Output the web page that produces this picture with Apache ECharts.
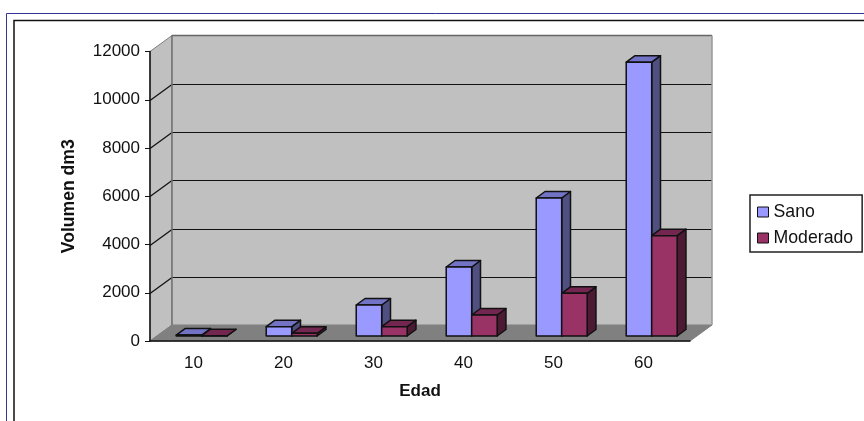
<!DOCTYPE html>
<html>
<head>
<meta charset="utf-8">
<title>Volumen por edad</title>
<style>
	html, body { margin: 0; padding: 0; background: #fff; }
	#main { width: 864px; height: 421px; }
</style>
<script src="https://cdn.jsdelivr.net/npm/echarts@6/dist/echarts.min.js"></script>
</head>
<body>
<div id="main"></div>
<script>
var edades = ['10', '20', '30', '40', '50', '60'];
var sano = [40, 385, 1285, 2860, 5720, 11350];
var moderado = [10, 110, 385, 870, 1770, 4160];
var yTicks = [0, 2000, 4000, 6000, 8000, 10000, 12000];

// fondo 3D: desplazamiento de la pared trasera
var wallDx = 22, wallDy = -16;
// barras: separacion del frente y profundidad
var barDx = 6.7, barDy = -5, depthDx = 8.8, depthDy = -6.5;
var barRatio = 0.283;

var font = '"Liberation Sans", Arial, sans-serif';
var myChart = echarts.init(document.getElementById('main'));

function poly(points, fill, stroke, width) {
	return {
		type: 'polygon',
		shape: { points: points },
		style: { fill: fill, stroke: stroke, lineWidth: width, lineJoin: 'round' }
	};
}

function line(x1, y1, x2, y2, color, width) {
	return {
		type: 'line',
		shape: { x1: x1, y1: y1, x2: x2, y2: y2 },
		style: { stroke: color, lineWidth: width }
	};
}

//paredes y suelo
function renderWalls(params, api) {
	var band = api.size([1, 0])[0];
	var first = api.coord([0, 0]);
	var last = api.coord([edades.length - 1, 0]);
	var top = api.coord([0, yTicks[yTicks.length - 1]]);
	var x0 = first[0] - band / 2, x1 = last[0] + band / 2;
	var y0 = first[1], yT = top[1];
	var bx0 = x0 + wallDx, bx1 = x1 + wallDx;
	var children = [
		poly([[x0, y0], [bx0, y0 + wallDy], [bx0, yT + wallDy], [x0, yT]], '#c0c0c0', '#808080', 1),
		poly([[bx0, y0 + wallDy], [bx1, y0 + wallDy], [bx1, yT + wallDy], [bx0, yT + wallDy]], '#c0c0c0', null, 0),
		poly([[x0, y0], [x1, y0], [bx1, y0 + wallDy], [bx0, y0 + wallDy]], '#808080', '#808080', 1)
	];
	yTicks.slice(1, -1).forEach(function(t) {
		var y = Math.round(api.coord([0, t])[1]) + 0.5;
		children.push(line(x0, y, bx0, y + wallDy, '#111', 1.2));
		children.push(line(bx0, y + wallDy, bx1, y + wallDy, '#111', 1.2));
	});
	children.push(line(bx0, y0 + wallDy, bx0, yT + wallDy, '#707070', 1.5));
	children.push(line(bx0, yT + wallDy, bx1, yT + wallDy, '#666', 1.5));
	children.push(line(bx1, yT + wallDy, bx1, y0 + wallDy, '#999', 1.5));
	return { type: 'group', children: children };
}

//barra 3D; side: -1 izquierda (Sano), 0 derecha (Moderado)
function barRenderer(side, front, topColor, sideColor) {
	return function(params, api) {
		var i = api.value(0);
		var v = api.value(1);
		var w = api.size([1, 0])[0] * barRatio;
		var c = api.coord([i, v]);
		var b = api.coord([i, 0]);
		var x0 = c[0] + barDx + side * w, x1 = x0 + w;
		var yTop = c[1] + barDy, yBase = b[1] + barDy;
		return {
			type: 'group',
			children: [
				poly([[x1, yTop], [x1 + depthDx, yTop + depthDy], [x1 + depthDx, yBase + depthDy], [x1, yBase]], sideColor, '#111', 1.5),
				poly([[x0, yTop], [x0 + depthDx, yTop + depthDy], [x1 + depthDx, yTop + depthDy], [x1, yTop]], topColor, '#111', 1.5),
				poly([[x0, yTop], [x1, yTop], [x1, yBase], [x0, yBase]], front, '#111', 1.5)
			]
		};
	};
}

function toData(values) {
	return values.map(function(v, i) { return [i, v]; });
}

var option = {
	animation: false,
	backgroundColor: '#fff',
	textStyle: { fontFamily: font },
	grid: { left: 150, right: 174, top: 51.5, bottom: 80 },
	legend: {
		left: 750,
		top: 195,
		orient: 'vertical',
		padding: [8, 9, 5, 7],
		itemWidth: 11,
		itemHeight: 10,
		itemGap: 8,
		borderColor: '#222',
		borderWidth: 1.5,
		backgroundColor: '#fff',
		icon: 'rect',
		data: [
			{ name: 'Sano', itemStyle: { color: '#9999ff', borderColor: '#111', borderWidth: 1 } },
			{ name: 'Moderado', itemStyle: { color: '#993366', borderColor: '#111', borderWidth: 1 } }
		],
		textStyle: { fontFamily: font, fontSize: 17.7, color: '#111' }
	},
	xAxis: {
		type: 'category',
		data: edades,
		z: 5,
		name: 'Edad',
		nameLocation: 'middle',
		nameGap: 42,
		nameTextStyle: { fontFamily: font, fontSize: 17, fontWeight: 'bold', color: '#111' },
		axisLine: { lineStyle: { color: '#111', width: 1.5 } },
		axisTick: { length: 5, lineStyle: { color: '#111' } },
		axisLabel: { fontFamily: font, fontSize: 17, color: '#111', margin: 14, padding: [0, 3, 0, 0] }
	},
	yAxis: {
		type: 'value',
		min: 0,
		max: 12000,
		interval: 2000,
		z: 5,
		name: 'Volumen dm3',
		nameLocation: 'middle',
		nameGap: 72,
		nameTextStyle: { fontFamily: font, fontSize: 17.6, fontWeight: 'bold', color: '#111' },
		splitLine: { show: false },
		axisLine: { show: true, lineStyle: { color: '#111', width: 1.5 } },
		axisTick: { show: true, length: 5, lineStyle: { color: '#111' } },
		axisLabel: {
			fontFamily: font,
			fontSize: 17,
			color: '#111',
			margin: 10,
			formatter: function(v) { return String(v); }
		}
	},
	graphic: [
		{ type: 'polyline', silent: true, shape: { points: [[6.5, 421], [6.5, 13.5], [864, 13.5]] }, style: { fill: null, stroke: '#333399', lineWidth: 1 } },
		{ type: 'polyline', silent: true, shape: { points: [[14, 421], [14, 20.5], [864, 20.5]] }, style: { fill: null, stroke: '#111', lineWidth: 1.5 } }
	],
	series: [
		{ type: 'custom', name: 'fondo', z: 1, silent: true, clip: false, data: [[0, 0]], renderItem: renderWalls },
		{ type: 'custom', name: 'Sano', z: 2, clip: false, itemStyle: { color: '#9999ff' }, data: toData(sano), encode: { x: 0, y: 1 }, renderItem: barRenderer(-1, '#9999ff', '#7373c6', '#4f4f80') },
		{ type: 'custom', name: 'Moderado', z: 3, clip: false, itemStyle: { color: '#993366' }, data: toData(moderado), encode: { x: 0, y: 1 }, renderItem: barRenderer(0, '#993366', '#732650', '#4d1a33') }
	]
};

myChart.setOption(option);
</script>
</body>
</html>
